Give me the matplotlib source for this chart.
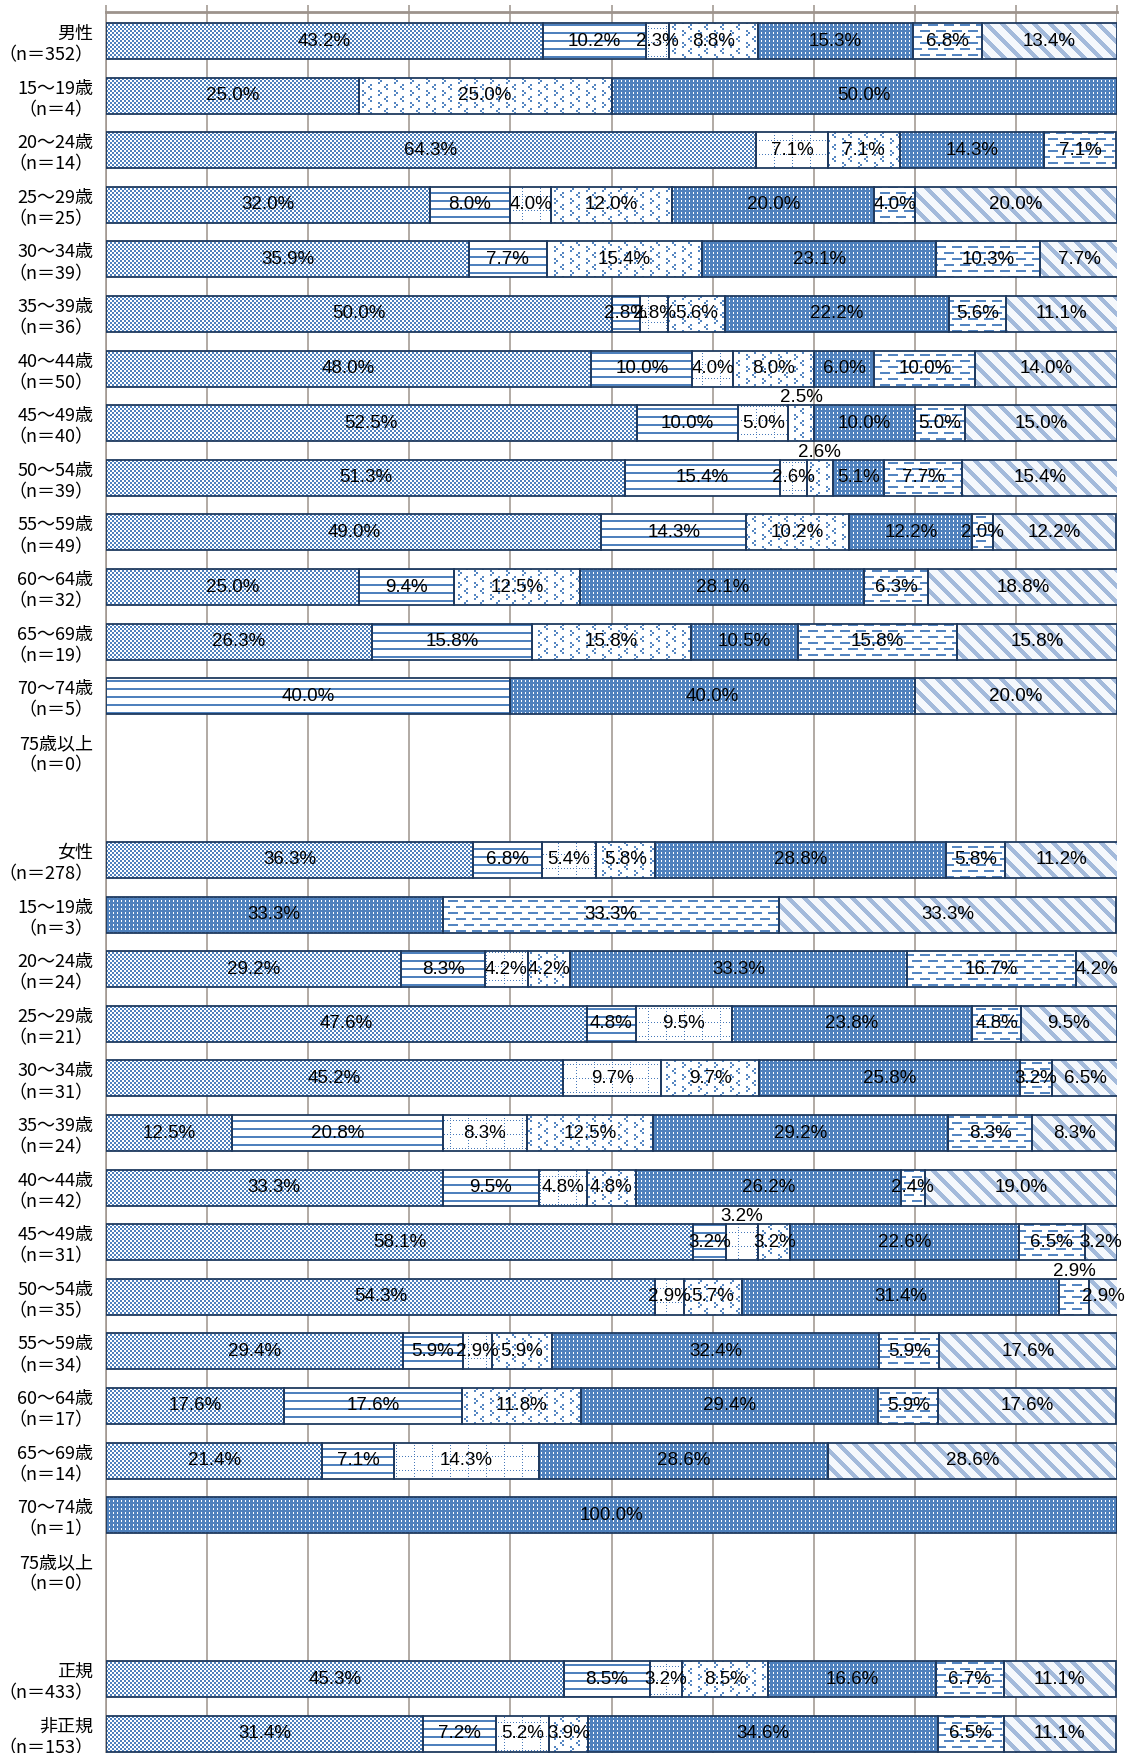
import numpy as np
import matplotlib.pyplot as plt
from matplotlib.path import Path

plt.rcParams['font.family'] = ['Noto Sans CJK JP', 'DejaVu Sans']

# row labels (blank strings are the spacer rows between groups)
row_names = ['男性', '15～19歳', '20～24歳', '25～29歳', '30～34歳', '35～39歳', '40～44歳',
             '45～49歳', '50～54歳', '55～59歳', '60～64歳', '65～69歳', '70～74歳', '75歳以上',
             '',
             '女性', '15～19歳', '20～24歳', '25～29歳', '30～34歳', '35～39歳', '40～44歳',
             '45～49歳', '50～54歳', '55～59歳', '60～64歳', '65～69歳', '70～74歳', '75歳以上',
             '',
             '正規', '非正規']
row_n = [352, 4, 14, 25, 39, 36, 50, 40, 39, 49, 32, 19, 5, 0,
         None,
         278, 3, 24, 21, 31, 24, 42, 31, 35, 34, 17, 14, 1, 0,
         None,
         433, 153]

# shares (%) for the seven answer categories, one list per row
male_vals = [
    [43.2, 10.2, 2.3, 8.8, 15.3, 6.8, 13.4],
    [25.0, 0, 0, 25.0, 50.0, 0, 0],
    [64.3, 0, 7.1, 7.1, 14.3, 7.1, 0],
    [32.0, 8.0, 4.0, 12.0, 20.0, 4.0, 20.0],
    [35.9, 7.7, 0, 15.4, 23.1, 10.3, 7.7],
    [50.0, 2.8, 2.8, 5.6, 22.2, 5.6, 11.1],
    [48.0, 10.0, 4.0, 8.0, 6.0, 10.0, 14.0],
    [52.5, 10.0, 5.0, 2.5, 10.0, 5.0, 15.0],
    [51.3, 15.4, 2.6, 2.6, 5.1, 7.7, 15.4],
    [49.0, 14.3, 0, 10.2, 12.2, 2.0, 12.2],
    [25.0, 9.4, 0, 12.5, 28.1, 6.3, 18.8],
    [26.3, 15.8, 0, 15.8, 10.5, 15.8, 15.8],
    [0, 40.0, 0, 0, 40.0, 0, 20.0],
    [0, 0, 0, 0, 0, 0, 0],
]
female_vals = [
    [36.3, 6.8, 5.4, 5.8, 28.8, 5.8, 11.2],
    [0, 0, 0, 0, 33.3, 33.3, 33.3],
    [29.2, 8.3, 4.2, 4.2, 33.3, 16.7, 4.2],
    [47.6, 4.8, 9.5, 0, 23.8, 4.8, 9.5],
    [45.2, 0, 9.7, 9.7, 25.8, 3.2, 6.5],
    [12.5, 20.8, 8.3, 12.5, 29.2, 8.3, 8.3],
    [33.3, 9.5, 4.8, 4.8, 26.2, 2.4, 19.0],
    [58.1, 3.2, 3.2, 3.2, 22.6, 6.5, 3.2],
    [54.3, 0, 2.9, 5.7, 31.4, 2.9, 2.9],
    [29.4, 5.9, 2.9, 5.9, 32.4, 5.9, 17.6],
    [17.6, 17.6, 0, 11.8, 29.4, 5.9, 17.6],
    [21.4, 7.1, 14.3, 0, 28.6, 0, 28.6],
    [0, 0, 0, 0, 100.0, 0, 0],
    [0, 0, 0, 0, 0, 0, 0],
]
emp_vals = [
    [45.3, 8.5, 3.2, 8.5, 16.6, 6.7, 11.1],
    [31.4, 7.2, 5.2, 3.9, 34.6, 6.5, 11.1],
]
blank = [[0] * 7]

# (row, category) whose value label sits above the bar
label_above = [(7, 3), (8, 3), (22, 2), (23, 5)]

vals = np.array(male_vals + blank + female_vals + blank + emp_vals, dtype=float)
n_rows, n_cat = vals.shape
lefts = np.hstack([np.zeros((n_rows, 1)), np.cumsum(vals, axis=1)[:, :-1]])

BLUE = (79, 129, 189)
WHITE = (255, 255, 255)
GRID = '#9d938c'
EDGE = '#1f3a5f'


# pattern tiles (True = foreground pixel)
def t_checker():
    t = np.zeros((4, 4), bool)
    t[:2, :2] = True
    t[2:, 2:] = True
    return t


def t_hlines():
    t = np.zeros((8, 1), bool)
    t[0:2] = True
    return t


def t_dotgrid():
    t = np.zeros((14, 18), bool)
    t[0, 0::3] = True
    t[0::3, 0] = True
    return t


def t_divot():
    base = np.zeros((6, 8), bool)
    for r, c in [(0, 1), (1, 0), (2, 1), (3, 5), (4, 6), (5, 5)]:
        base[r, c] = True
    return np.kron(base, np.ones((2, 2), bool)).astype(bool)


def t_whitedots():
    t = np.zeros((4, 4), bool)
    t[0:2, 1] = True
    return t


def t_dashes():
    t = np.zeros((12, 16), bool)
    t[0:2, 0:10] = True
    t[6:8, 8:16] = True
    t[6:8, 0:2] = True
    return t


def t_diag():
    r, c = np.mgrid[0:16, 0:16]
    return ((c - r) % 16) < 6


patterns = [
    (t_checker(), BLUE, WHITE),
    (t_hlines(), BLUE, WHITE),
    (t_dotgrid(), (70, 120, 185), WHITE),
    (t_divot(), (84, 133, 193), WHITE),
    (t_whitedots(), WHITE, BLUE),
    (t_dashes(), (84, 133, 193), WHITE),
    (t_diag(), (163, 186, 219), (245, 248, 252)),
]

H, W = 1753, 1126
fig = plt.figure(figsize=(W / 100, H / 100), dpi=100)

ax_left, ax_right, ax_top = 106, 1117, 12
row_px = 54.6
first_center = 41
y_top = -(first_center - ax_top) / row_px
y_bot = n_rows
ax_h = (y_bot - y_top) * row_px
ax = fig.add_axes([ax_left / W, 1 - (ax_top + ax_h) / H, (ax_right - ax_left) / W, ax_h / H])
ax.set_xlim(0, 100)
ax.set_ylim(y_bot, y_top)

bar_h = 0.66
rows = np.arange(n_rows)

# figure corners in data units, so texture pixels land on output pixels
inv = ax.transData.inverted()
(x0, y0), (x1, y1) = inv.transform([(0, 0), (W, H)])
yy, xx = np.mgrid[0:H, 0:W]

for k in range(n_cat):
    keep = vals[:, k] > 0
    bars = ax.barh(rows[keep], vals[keep, k], left=lefts[keep, k], height=bar_h,
                   facecolor='none', edgecolor=EDGE, linewidth=1.3, zorder=3)
    tile, fg, bg = patterns[k]
    th, tw = tile.shape
    mask = tile[yy % th, xx % tw]
    img = np.where(mask[..., None], np.array(fg, np.uint8), np.array(bg, np.uint8)).astype(np.uint8)
    clip = Path.make_compound_path(*[b.get_path().transformed(b.get_patch_transform())
                                     for b in bars.patches])
    im = ax.imshow(img, extent=(x0, x1, y0, y1), origin='upper', interpolation='nearest',
                   aspect='auto', zorder=2)
    im.set_clip_path(clip, ax.transData)

ax.set_xlim(0, 100)
ax.set_ylim(y_bot, y_top)

# value labels
for i in range(n_rows):
    for k in range(n_cat):
        v = vals[i, k]
        if v <= 0:
            continue
        xc = lefts[i, k] + v / 2
        yc = i - 0.47 if (i, k) in label_above else i
        ax.text(xc, yc, f'{v:.1f}%', ha='center', va='center', fontsize=13.5,
                family=['Liberation Sans', 'DejaVu Sans'], color='black', zorder=4)

# category labels
tick_rows = [i for i in range(n_rows) if row_n[i] is not None]
tick_text = [f'{row_names[i]}\n（n＝{row_n[i]}）' for i in tick_rows]
ax.set_yticks(tick_rows)
ax.set_yticklabels(tick_text, fontsize=13, linespacing=1.25)
ax.tick_params(axis='y', length=0, pad=9)

ax.set_xticks(range(0, 101, 10))
ax.xaxis.tick_top()
ax.tick_params(axis='x', direction='out', length=5, width=1.1, color=GRID,
               labeltop=False, labelbottom=False)
ax.grid(axis='x', color=GRID, linewidth=1.1)
ax.set_axisbelow(True)

ax.spines['top'].set_color(GRID)
ax.spines['top'].set_linewidth(2)
ax.spines['left'].set_color(GRID)
ax.spines['left'].set_linewidth(1.1)
ax.spines['right'].set_visible(False)
ax.spines['bottom'].set_visible(False)

fig.savefig('out.png', dpi=100)
